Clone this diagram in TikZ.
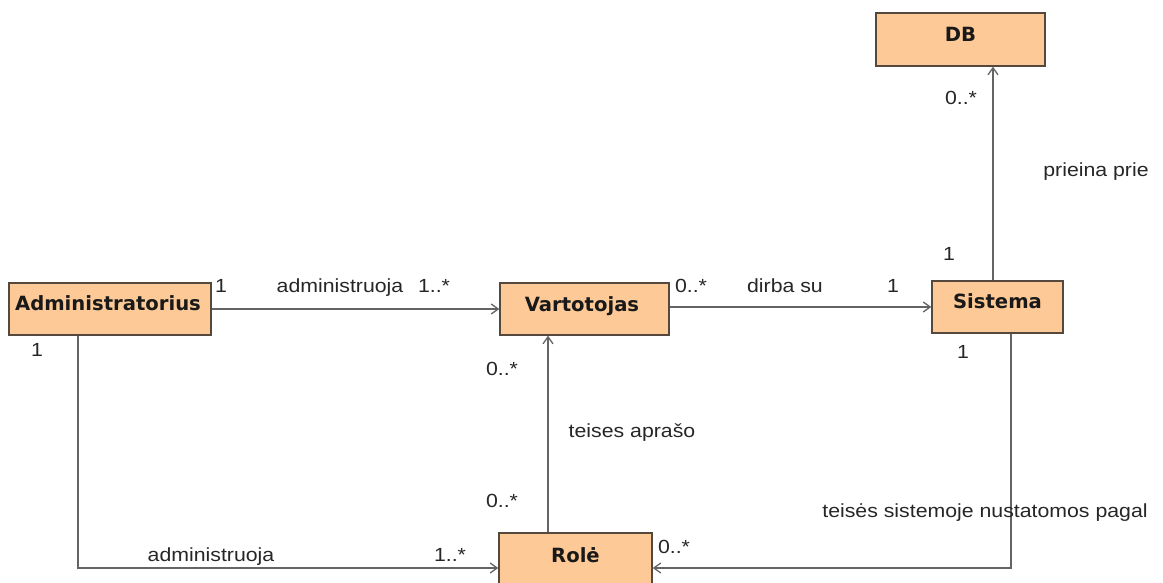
\documentclass[tikz,border=0pt]{standalone}
\usepackage{fontspec}
\usetikzlibrary{arrows.meta,calc}
\newfontfamily\boxfont{DejaVu Sans}
\newfontfamily\labfont[FakeStretch=1.12]{Liberation Sans}
\definecolor{boxfill}{RGB}{253,201,150}
\definecolor{boxline}{RGB}{85,72,60}
\definecolor{conn}{RGB}{100,100,100}
\begin{document}
\begin{tikzpicture}[x=1pt,y=-1pt,
  cls/.style={draw=boxline,line width=1.4pt,fill=boxfill,inner sep=0pt},
  clstext/.style={anchor=base,inner sep=0pt,font=\boxfont\bfseries\fontsize{19.6}{22}\selectfont,text=black!90},
  lab/.style={anchor=base,inner sep=0pt,font=\labfont\fontsize{19}{22}\selectfont,text=black!85},
  assoc/.style={draw=conn,line width=1.4pt,-{Straight Barb[length=7pt,width=10pt,line width=1.3pt]}}]
\useasboundingbox (0,0) rectangle (1163,583);
% classes
\node[cls,minimum width=169pt,minimum height=53pt] (db) at (960.5,39.5) {};
\node[clstext] (dbT) at (960.5,42) {DB};
\node[cls,minimum width=202pt,minimum height=52pt] (adm) at (110,309) {};
\node[clstext] (admT) at (108,310) {Administratorius};
\node[cls,minimum width=169pt,minimum height=52pt] (var) at (584.5,309) {};
\node[clstext] (varT) at (582,311) {Vartotojas};
\node[cls,minimum width=131pt,minimum height=52pt] (sis) at (997.5,307) {};
\node[clstext] (sisT) at (997.5,308) {Sistema};
\node[cls,minimum width=153pt,minimum height=52pt] (role) at (575.5,559) {};
\node[clstext] (roleT) at (575.5,562) {Rolė};
% connectors
\draw[assoc] (adm.east) -- (var.west);
\draw[assoc] (var.east |- sis.west) -- (sis.west);
\draw[assoc] ([xshift=-4.5pt]sis.north) -- ([xshift=-4.5pt]sis.north |- db.south);
\draw[assoc] ([xshift=-27.5pt]role.north) -- ([xshift=-27.5pt]role.north |- var.south);
\draw[assoc] ([xshift=-32pt]adm.south) |- ([yshift=-9pt]role.west);
\draw[assoc] ([xshift=13.5pt]sis.south) |- ([yshift=-9pt]role.east);
% labels
\node[lab] (l1) at (221,292) {1};
\node[lab] (l2) at (340,292) {administruoja};
\node[lab] (l3) at (434,292) {1..*};
\node[lab] (l4) at (691,292) {0..*};
\node[lab] (l5) at (785,292) {dirba su};
\node[lab] (l6) at (893,292) {1};
\node[lab] (l7) at (961,105) {0..*};
\node[lab] (l8) at (1096,177) {prieina prie};
\node[lab] (l9) at (949,260) {1};
\node[lab] (l10) at (963,358) {1};
\node[lab] (l11) at (37,356) {1};
\node[lab] (l12) at (502,375) {0..*};
\node[lab] (l13) at (632,437) {teises aprašo};
\node[lab] (l14) at (502,507) {0..*};
\node[lab] (l15) at (211,561) {administruoja};
\node[lab] (l16) at (450,561) {1..*};
\node[lab] (l17) at (674,553) {0..*};
\node[lab] (l18) at (985,517) {teisės sistemoje nustatomos pagal};
\end{tikzpicture}
\end{document}
